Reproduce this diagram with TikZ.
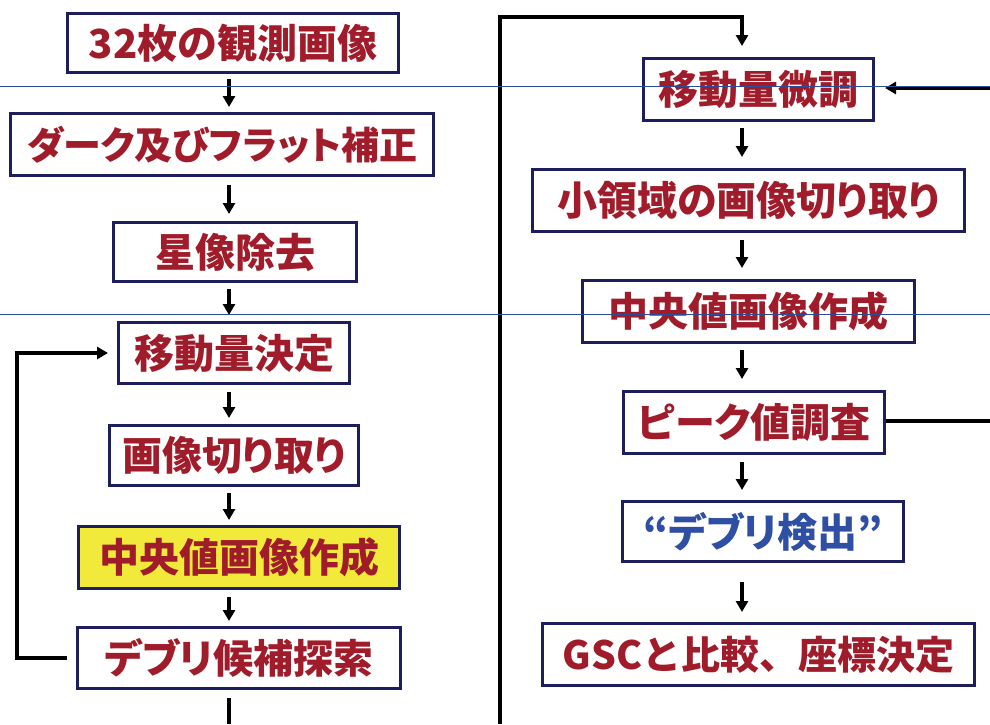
\documentclass[tikz,border=0pt]{standalone}
\usepackage{fontspec}
\newfontfamily\jp[RawFeature=+palt]{Noto Sans CJK JP}
\newfontfamily\jpfull{Noto Sans CJK JP}
\usetikzlibrary{arrows.meta}
\definecolor{boxred}{HTML}{A01C2A}
\definecolor{boxblue}{HTML}{2E4FA3}
\definecolor{navy}{HTML}{1E1E5C}
\definecolor{hl}{HTML}{F2EA3A}
\definecolor{guide}{HTML}{2B4C9B}
\tikzset{
  stepbox/.style={draw=navy, line width=3pt, fill=white, inner sep=0pt, align=center,
    font=\jp\bfseries\fontsize{40}{40}\selectfont, text=boxred},
  flow/.style={line width=3.2pt, -{Triangle[width=12pt,length=11pt]}},
  plain/.style={line width=3.2pt},
  guideline/.style={guide, line width=1pt}
}
\begin{document}
\begin{tikzpicture}[x=1pt,y=-1pt]
\useasboundingbox (0,0) rectangle (990,724);
% left column
\node[stepbox, minimum width=331pt, minimum height=59pt] (b1) at (233,43) {32枚の観測画像};
\node[stepbox, font=\jp\bfseries\fontsize{38}{38}\selectfont, minimum width=423pt, minimum height=62pt] (b2) at (222,144.5) {ダーク及びフラット補正};
\node[stepbox, minimum width=243pt, minimum height=59pt] (b3) at (235,252) {星像除去};
\node[stepbox, minimum width=231pt, minimum height=61pt] (b4) at (234,353) {移動量決定};
\node[stepbox, minimum width=249pt, minimum height=60pt] (b5) at (234,455.5) {画像切り取り};
\node[stepbox, fill=hl, minimum width=321pt, minimum height=62pt] (b6) at (239,557.5) {中央値画像作成};
\node[stepbox, minimum width=323pt, minimum height=61pt] (b7) at (239,658) {デブリ候補探索};
% right column
\node[stepbox, minimum width=230pt, minimum height=62pt] (r1) at (758.5,89.5) {移動量微調};
\node[stepbox, minimum width=432pt, minimum height=62pt] (r2) at (748.5,200.5) {小領域の画像切り取り};
\node[stepbox, minimum width=332pt, minimum height=62pt] (r3) at (748.5,311.5) {中央値画像作成};
\node[stepbox, minimum width=261pt, minimum height=62pt] (r4) at (754,422.5) {ピーク値調査};
\node[stepbox, text=boxblue, minimum width=281pt, minimum height=60pt] (r5) at (763,531.5) {“デブリ検出”};
\node[stepbox, font=\jpfull\bfseries\fontsize{39}{39}\selectfont, minimum width=432pt, minimum height=62pt] (r6) at (758.5,654.5) {GSCと比較、座標決定};
% helper coordinates
\coordinate (lx) at (229,0);
\coordinate (rx) at (742,0);
\coordinate (bottomL) at (229,724);
\coordinate (loopL) at (17,0);
\coordinate (topR) at (500,17);
\coordinate (bottomR) at (500,724);
\coordinate (inR) at (990,88);
\coordinate (outR) at (990,421);
% left arrows
\draw[flow, shorten <=5pt, shorten >=5pt] (lx |- b1.south) -- (lx |- b2.north);
\draw[flow, shorten <=8pt, shorten >=7pt] (lx |- b2.south) -- (lx |- b3.north);
\draw[flow, shorten <=6pt, shorten >=6pt] (lx |- b3.south) -- (lx |- b4.north);
\draw[flow, shorten <=7pt, shorten >=6pt] (lx |- b4.south) -- (lx |- b5.north);
\draw[flow, shorten <=6pt, shorten >=5pt] (lx |- b5.south) -- (lx |- b6.north);
\draw[flow, shorten <=7pt, shorten >=5pt] (lx |- b6.south) -- (lx |- b7.north);
\draw[plain, shorten <=8pt] (lx |- b7.south) -- (bottomL);
% loop back
\draw[flow, shorten <=9pt, shorten >=9pt] (b7.west) -| (loopL |- b4.west) -- (b4.west);
% right column
\draw[flow, shorten >=11pt] (bottomR) -- (topR) -| (rx |- r1.north);
\draw[flow, shorten <=6pt, shorten >=11pt] (rx |- r1.south) -- (rx |- r2.north);
\draw[flow, shorten <=7pt, shorten >=11pt] (rx |- r2.south) -- (rx |- r3.north);
\draw[flow, shorten <=6pt, shorten >=11pt] (rx |- r3.south) -- (rx |- r4.north);
\draw[flow, shorten <=7pt, shorten >=10pt] (rx |- r4.south) -- (rx |- r5.north);
\draw[flow, shorten <=19pt, shorten >=10pt] (rx |- r5.south) -- (rx |- r6.north);
\draw[flow, shorten >=10pt] (inR) -- (r1.east |- inR);
\draw[plain] (r4.east |- outR) -- (outR);
% thin guide lines
\draw[guideline] (0,86.5) -- (990,86.5);
\draw[guideline] (0,314.5) -- (990,314.5);
\end{tikzpicture}
\end{document}
